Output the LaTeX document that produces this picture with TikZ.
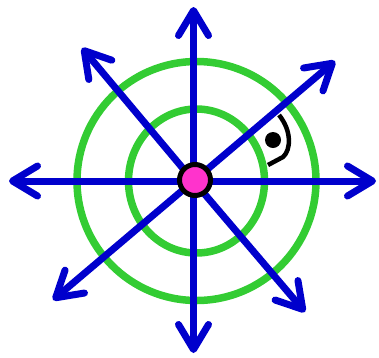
\documentclass[tikz,border=0pt]{standalone}
\usetikzlibrary{arrows.meta}
\definecolor{ablue}{RGB}{0,0,204}
\definecolor{agreen}{RGB}{51,204,51}
\definecolor{apink}{RGB}{255,51,204}
\begin{document}
\begin{tikzpicture}[x=1pt,y=-1pt,
  ring/.style={draw=agreen,line width=7.5pt},
  ray/.style={draw=ablue,line width=7pt,-{Straight Barb[length=25pt,width=30pt,round]}},
  hub/.style={circle,draw=black,fill=apink,line width=5pt,minimum size=31pt,inner sep=0pt}]
\useasboundingbox (0,0) rectangle (379,357);
\coordinate (o) at (193.5,181);
\draw[ring] (196.5,181) ellipse [x radius=68pt,y radius=72pt];
\draw[ring] (196.5,181) ellipse [x radius=119.5pt,y radius=119.5pt];
\coordinate (tn) at (193.5,7);
\coordinate (ts) at (193.5,353);
\coordinate (tw) at (9,181);
\coordinate (te) at (376,181);
\coordinate (tnw) at (82,48);
\coordinate (tne) at (335,61);
\coordinate (tsw) at (53,300);
\coordinate (tse) at (305,312);
\foreach \t in {tn,ts,tw,te,tnw,tne,tsw,tse}{\draw[ray] (o) -- (\t);}
\draw[black,line width=4.5pt,line cap=butt] (279,115) .. controls (292,131) and (291,150) .. (283,157) -- (268,165);
\fill[black] (273,140) circle[radius=8pt];
\node[hub] (c) at (195,180) {};
\end{tikzpicture}
\end{document}
